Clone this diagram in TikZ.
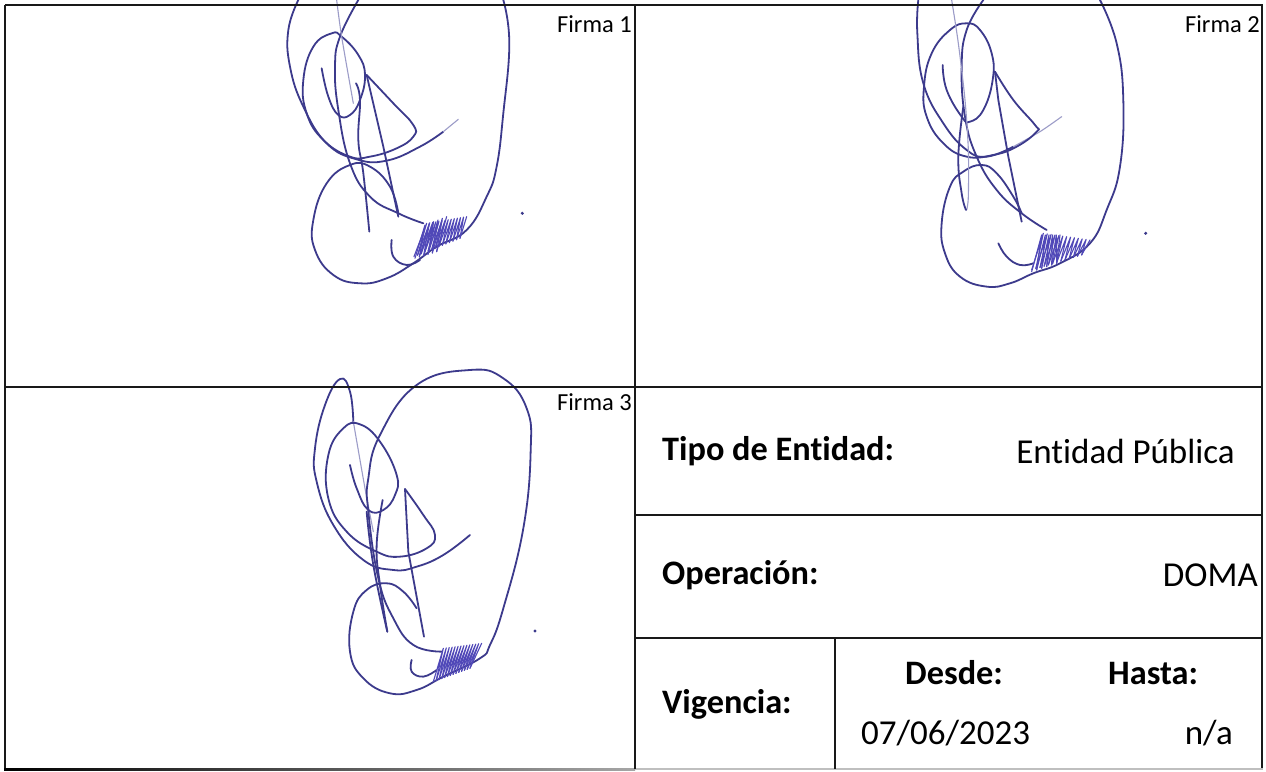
\documentclass[tikz,border=0pt]{standalone}
\usepackage{fontspec}
\setmainfont[Ligatures=NoCommon]{Carlito}
\definecolor{ink}{HTML}{3C3A8C}
\definecolor{inkl}{HTML}{9C9CC8}
\definecolor{scrib}{HTML}{5048B8}
\newcommand{\scribble}[9]{% x1 y1 x2 y2 (bottom edge) x3 y3 x4 y4 (top edge) count
  \foreach \i in {0,...,#9}{
    \pgfmathsetmacro{\t}{\i/#9}
    \pgfmathsetmacro{\u}{min(1,\t+1/#9)}
    \draw[scr] ({#1+(#3-#1)*\t},{#2+(#4-#2)*\t}) -- ({#5+(#7-#5)*\t},{#6+(#8-#6)*\t}) -- ({#1+(#3-#1)*\u},{#2+(#4-#2)*\u});
  }}
\tikzset{
  x=1pt,y=-1pt,
  rule/.style={line width=2pt,black!90},
  pen/.style={ink,line width=1.8pt,line cap=round,line join=round},
  faint/.style={inkl,line width=1.1pt,line cap=round},
  scr/.style={scrib,line width=1.1pt,line join=round,line cap=round},
  firma/.style={font=\fontsize{24.5}{26}\selectfont,anchor=north east,inner sep=0pt},
  lab/.style={font=\fontsize{34.3}{38}\selectfont\bfseries,anchor=west,inner sep=0pt},
  val/.style={font=\fontsize{35}{38}\selectfont,anchor=east,inner sep=0pt},
}
\begin{document}
\begin{tikzpicture}
\useasboundingbox (0,0) rectangle (1266,771);
\clip (0,0) rectangle (1266,771);
\fill[white] (0,0) rectangle (1266,771);
% signature 1
\begin{scope}[shift={(270,0)},x=0.3333pt,y=-0.3333pt]
\draw[pen] plot[smooth,tension=.75] coordinates {(85,0)(55,90)(60,200)(100,320)(170,430)(260,478)(350,482)(450,440)(520,395)};
\draw[faint] plot[smooth] coordinates {(520,395)(565,358)};
\draw[pen] plot[smooth,tension=.75] coordinates {(155,205)(175,290)(205,345)(240,345)(270,300)(285,225)(265,165)(215,110)(185,100)(130,140)(100,240)(110,340)(160,420)(240,470)(300,470)(380,445)(430,410)(430,375)(370,310)(290,225)};
\draw[pen] (290,225) -- (340,440) -- (385,650);
\draw[pen] plot[smooth,tension=.75] coordinates {(460,670)(385,640)(300,590)(240,490)(205,330)(195,200)(210,110)(265,0)};
\draw[pen] plot[smooth,tension=.75] coordinates {(700,0)(718,130)(700,340)(680,500)(650,590)(590,690)(500,740)(430,790)(350,835)(270,850)(190,825)(135,750)(130,660)(170,550)(240,495)(300,500)(360,560)(385,640)};
\draw[faint] plot[smooth] coordinates {(200,0)(215,110)(250,310)};
\draw[pen] plot[smooth,tension=.75] coordinates {(258,250)(270,300)(265,420)(280,520)(298,695)};
\draw[pen] plot[smooth,tension=.75] coordinates {(365,720)(370,770)(410,795)(450,780)};
\scribble{432}{770}{570}{715}{470}{670}{590}{650}{13}
\scribble{435}{775}{500}{755}{465}{675}{530}{650}{5}
\fill[ink] (757,640) circle (5);
\end{scope}
% signature 2
\begin{scope}[shift={(900,0)},x=0.3333pt,y=-0.3333pt]
\draw[pen] plot[smooth,tension=.75] coordinates {(55,0)(52,100)(70,250)(130,370)(200,450)(260,470)(340,440)};
\draw[faint] plot[smooth] coordinates {(340,440)(420,395)(485,350)};
\draw[pen] plot[smooth,tension=.75] coordinates {(128,195)(140,270)(185,350)(210,365)(250,330)(278,240)(275,160)(240,90)(200,70)(150,90)(95,160)(72,260)(80,350)(130,430)(200,470)(280,465)(350,440)(410,395)(405,375)(340,300)(285,215)};
\draw[pen] (285,215) -- (295,300) -- (325,470) -- (365,665);
\draw[pen] plot[smooth,tension=.75] coordinates {(440,690)(365,640)(290,570)(230,470)(195,350)(185,200)(200,90)(250,0)};
\draw[pen] plot[smooth,tension=.75] coordinates {(600,0)(650,130)(670,300)(660,500)(620,630)(570,730)(480,790)(400,820)(330,850)(260,860)(180,830)(135,760)(125,670)(150,560)(190,515)(245,495)(290,520)(340,590)(365,640)};
\draw[faint] plot[smooth] coordinates {(155,0)(175,130)(195,300)(205,450)(205,590)(200,630)};
\draw[pen] plot[smooth,tension=.75] coordinates {(190,320)(175,470)(185,580)(198,630)};
\draw[pen] plot[smooth,tension=.75] coordinates {(295,730)(320,770)(360,795)(400,790)};
\scribble{395}{810}{545}{765}{430}{700}{570}{720}{12}
\scribble{395}{815}{470}{790}{425}{705}{480}{705}{5}
\fill[ink] (737,700) circle (5);
\end{scope}
% signature 3
\begin{scope}[shift={(300,365)},x=0.3333pt,y=-0.3333pt]
\draw[pen] plot[smooth,tension=.75] coordinates {(510,510)(430,570)(350,605)(280,615)(190,585)(100,480)(50,350)(45,250)(75,120)(120,42)(150,80)(160,170)};
\draw[faint] plot[smooth] coordinates {(160,170)(195,370)(220,500)};
\draw[pen] plot[smooth,tension=.75] coordinates {(150,300)(170,370)(205,435)(250,435)(285,390)(290,330)(240,230)(180,178)(130,190)(85,270)(85,400)(140,500)(230,560)(300,575)(380,550)(405,510)(370,450)(315,372)};
\draw[pen] (315,372) -- (325,560) -- (372,815);
\draw[pen] plot[smooth,tension=.75] coordinates {(425,860)(340,840)(280,760)(235,640)(205,440)(205,340)(240,210)(350,60)(510,15)(610,40)(680,130)(692,260)(670,490)(610,730)(570,840)(540,880)(430,935)(350,975)(270,985)(190,940)(150,860)(160,740)(200,675)(260,655)(310,680)(350,730)};
\draw[pen] plot[smooth,tension=.75] coordinates {(248,405)(230,540)(240,660)(262,800)};
\draw[pen] plot[smooth,tension=.75] coordinates {(200,440)(220,600)(262,800)};
\draw[pen] plot[smooth,tension=.75] coordinates {(335,885)(335,920)(370,935)(410,915)};
\scribble{400}{950}{510}{910}{430}{850}{545}{835}{13}
\fill[ink] (705,798) circle (5);
\end{scope}
% table rules
\draw[rule] (5,5) -- (5,769);
\draw[rule] (1262,769) -- (1262,5);
\shade[left color=black,right color=black!35] (4,768) rectangle (635,770);
\fill[black!25] (635,768) rectangle (1263,770);
\draw[rule] (5,5) -- (1263,5);
\draw[rule] (5,387) -- (1262,387);
\draw[rule] (634.5,5) -- (634.5,769);
\draw[rule,line width=1.5pt] (634.5,515) -- (1262,515);
\draw[rule,line width=1.5pt] (634.5,638) -- (1262,638);
\draw[rule,line width=1.5pt] (835,638) -- (835,769);
% texts
\node[firma] (f1) at (632,15) {Firma 1};
\node[firma] (f2) at (1260,15) {Firma 2};
\node[firma] (f3) at (632,393) {Firma 3};
\node[lab] (t1) at (662,451) {Tipo de Entidad:};
\node[val] (v1) at (1235,451) {Entidad Pública};
\node[lab] (t2) at (662,575) {Operación:};
\node[val] (v2) at (1258,575) {DOMA};
\node[lab] (t3) at (662,704) {Vigencia:};
\node[lab] (t4) at (905,673) {Desde:};
\node[lab] (t5) at (1108,673) {Hasta:};
\node[val,anchor=west] (v3) at (861,733) {07/06/2023};
\node[val] (v4) at (1233,733) {n/a};
\end{tikzpicture}
\end{document}
